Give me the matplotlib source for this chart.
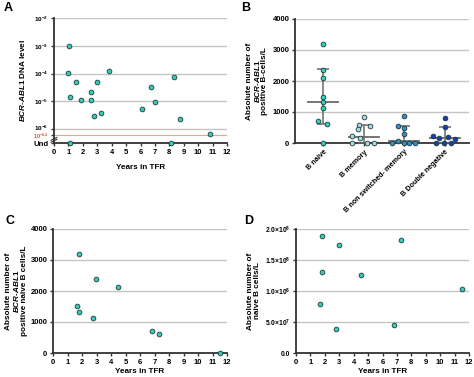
import numpy as np
import matplotlib
matplotlib.use("Agg")
import matplotlib.pyplot as plt
import matplotlib.transforms as mt

plt.rcParams["font.family"] = ["Liberation Sans", "DejaVu Sans"]
plt.rcParams["font.weight"] = "bold"
plt.rcParams["mathtext.fontset"] = "custom"
plt.rcParams["mathtext.rm"] = "Liberation Sans:bold"
plt.rcParams["mathtext.it"] = "Liberation Sans:italic:bold"
plt.rcParams["mathtext.bf"] = "Liberation Sans:bold"

# --- panel A: BCR-ABL1 DNA level (log10) vs years in TFR
a_years = [1.06, 0.99, 1.5, 1.09, 1.87, 2.59, 2.59, 3.0, 2.8, 3.28, 3.79,
           6.1, 6.71, 7.0, 8.3, 8.72, 10.82]
a_log_level = [-3.0, -3.98, -4.30, -4.86, -4.95, -4.65, -4.95, -4.29, -5.54,
               -5.41, -3.89, -5.26, -4.50, -5.04, -4.11, -5.64, -6.17]
a_und_years = [1.09, 8.1]
a_und_level = -6.5
a_threshold = -6.2

# --- panel B: absolute number of BCR-ABL1 positive B cells per subset
b_groups = ["B naive", "B memory", "B non switched- memory", "B Double negative"]
b_values = [[3190, 2350, 2090, 1480, 1310, 1115, 700, 610, 0],
            [840, 580, 540, 450, 210, 160, 0, 0, 0],
            [880, 560, 500, 290, 80, 0, 0, 0, 0],
            [800, 530, 230, 170, 180, 120, 0, 0, 0]]
b_jitter = [[0, 0, 0, 0, 0, 0, -0.12, 0.1, 0],
            [0, -0.12, 0.15, -0.14, -0.3, -0.09, -0.29, 0.07, 0.26],
            [0, -0.15, 0, 0, -0.16, -0.3, 0, 0.12, 0.26],
            [0, 0, -0.3, -0.14, 0.07, 0.25, -0.22, -0.03, 0.15]]
b_median = [1310, 200, 50, 170]
b_low = [620, 0, 0, 0]
b_high = [2380, 580, 560, 530]
b_colors = ["#35cdb8", "#a9d9e3", "#2f8ed0", "#1f3cb0"]

# --- panel C: BCR-ABL1 positive naive B cells vs years in TFR
c_years = [1.78, 2.98, 4.5, 1.68, 1.8, 2.79, 6.81, 7.32, 11.5]
c_cells = [3206, 2381, 2145, 1501, 1308, 1126, 708, 622, 0]

# --- panel D: naive B cells vs years in TFR
d_years = [1.80, 3.0, 7.31, 1.83, 4.51, 11.54, 1.69, 2.80, 6.82]
d_cells = [1.892e8, 1.747e8, 1.822e8, 1.310e8, 1.256e8, 1.030e8, 0.787e8,
           0.388e8, 0.458e8]

teal = "#35cdb8"
edge = "#1d3a3a"
grid_c = "#c4c4c4"
spine_c = "#333333"
tick_fs = 5.5
lab_fs = 5.9

W, H = 474, 377
fig = plt.figure(figsize=(W / 100, H / 100), dpi=100)


def make_ax(x0, y_top, x1, y_bot):
    ax = fig.add_axes([x0 / W, 1 - y_bot / H, (x1 - x0) / W, (y_bot - y_top) / H])
    for s in ["top", "right"]:
        ax.spines[s].set_visible(False)
    for s in ["left", "bottom"]:
        ax.spines[s].set_color(spine_c)
        ax.spines[s].set_linewidth(1.3)
    ax.tick_params(labelsize=tick_fs, length=2.5, width=1, color=spine_c, pad=1.5)
    ax.yaxis.grid(True, color=grid_c, linewidth=1)
    ax.set_axisbelow(True)
    return ax


def years_axis(ax):
    ax.set_xlim(0, 12)
    ax.set_xticks(range(0, 13))


mk = dict(marker="o", linestyle="none", markersize=3.4, markeredgecolor=edge,
          markeredgewidth=0.6, clip_on=False, zorder=5)

# A
axA = make_ax(54, 18, 227, 143)
years_axis(axA)
axA.set_ylim(a_und_level, -2)
axA.set_yticks([-2, -3, -4, -5, -6, a_threshold, a_und_level])
axA.set_yticklabels([r"$10^{-2}$", r"$10^{-3}$", r"$10^{-4}$", r"$10^{-5}$",
                     r"$10^{-6}$", r"$10^{-6.2}$", "Und"])
labsA = axA.get_yticklabels()
for t in labsA:
    t.set_fontsize(4.6)
labsA[5].set_color("#e0503c")
labsA[5].set_fontsize(4.0)
labsA[6].set_fontsize(5.6)
# nudge the crowded labels apart a little
labsA[4].set_transform(labsA[4].get_transform() +
                       mt.ScaledTranslation(0, 1.5 / 72, fig.dpi_scale_trans))
labsA[5].set_transform(labsA[5].get_transform() +
                       mt.ScaledTranslation(0, -0.5 / 72, fig.dpi_scale_trans))
axA.yaxis.get_gridlines()[5].set_color("#f0a090")
axA.yaxis.get_gridlines()[5].set_linewidth(0.8)
axA.yaxis.get_gridlines()[6].set_visible(False)
axA.plot(a_years, a_log_level, color=teal, **mk)
axA.plot(a_und_years, [a_und_level] * len(a_und_years), color=teal, **mk)
# axis break marks
for dy in (0.0, 0.07):
    axA.plot([-0.2, 0.2], [-6.42 + dy - 0.05, -6.42 + dy + 0.05], color=spine_c,
             linewidth=0.8, clip_on=False)
axA.set_xlabel("Years in TFR", fontsize=lab_fs, fontweight="bold", labelpad=6)
axA.set_ylabel(r"$\mathit{BCR}$-$\mathit{ABL1}$ DNA level", fontsize=lab_fs,
               fontweight="bold", labelpad=4)

# B
axB = make_ax(295, 19, 469, 143)
axB.set_xlim(-0.7, 3.6)
axB.set_ylim(0, 4000)
axB.set_yticks([0, 1000, 2000, 3000, 4000])
axB.set_xticks(range(len(b_groups)))
axB.set_xticklabels(b_groups, rotation=45, ha="right", rotation_mode="anchor",
                    fontsize=5.2)
for i, vals in enumerate(b_values):
    xs = [i + j for j in b_jitter[i]]
    axB.errorbar(i, b_median[i],
                 yerr=[[b_median[i] - b_low[i]], [b_high[i] - b_median[i]]],
                 color="#6a6a6a", linewidth=1.1, capsize=4.5, capthick=1.1, zorder=3)
    axB.plot([i - 0.37, i + 0.37], [b_median[i]] * 2, color="#6a6a6a",
             linewidth=1.3, zorder=3)
    axB.plot(xs, vals, color=b_colors[i], **mk)
axB.set_ylabel("Absolute number of\n$\\mathit{BCR}$-$\\mathit{ABL1}$\npositive B-cells/L",
               fontsize=lab_fs, fontweight="bold", labelpad=3, linespacing=0.95)

# C
axC = make_ax(53, 229, 227, 353)
years_axis(axC)
axC.set_ylim(0, 4000)
axC.set_yticks([0, 1000, 2000, 3000, 4000])
axC.plot(c_years, c_cells, color=teal, **mk)
axC.set_xlabel("Years in TFR", fontsize=lab_fs, fontweight="bold", labelpad=2)
axC.set_ylabel("Absolute number of\n$\\mathit{BCR}$-$\\mathit{ABL1}$\npositive naive B cells/L",
               fontsize=lab_fs, fontweight="bold", labelpad=2, linespacing=0.95)

# D
axD = make_ax(296, 229, 469, 353)
years_axis(axD)
axD.set_ylim(0, 2e8)
axD.set_yticks([0, 5e7, 1e8, 1.5e8, 2e8])
axD.set_yticklabels(["0.0", r"$5.0{\times}10^{7}$", r"$1.0{\times}10^{8}$",
                     r"$1.5{\times}10^{8}$", r"$2.0{\times}10^{8}$"], fontsize=4.9)
axD.plot(d_years, d_cells, color=teal, **mk)
axD.set_xlabel("Years in TFR", fontsize=lab_fs, fontweight="bold", labelpad=2)
axD.set_ylabel("Absolute number of\nnaive B cells/L", fontsize=lab_fs,
               fontweight="bold", labelpad=3, linespacing=0.95)

for lab, x, y in [("A", 4, 2), ("B", 241, 2), ("C", 6, 215), ("D", 244, 215)]:
    fig.text(x / W, 1 - y / H, lab, fontsize=9, fontweight="bold", va="top")

fig.savefig("out.png", dpi=100)
